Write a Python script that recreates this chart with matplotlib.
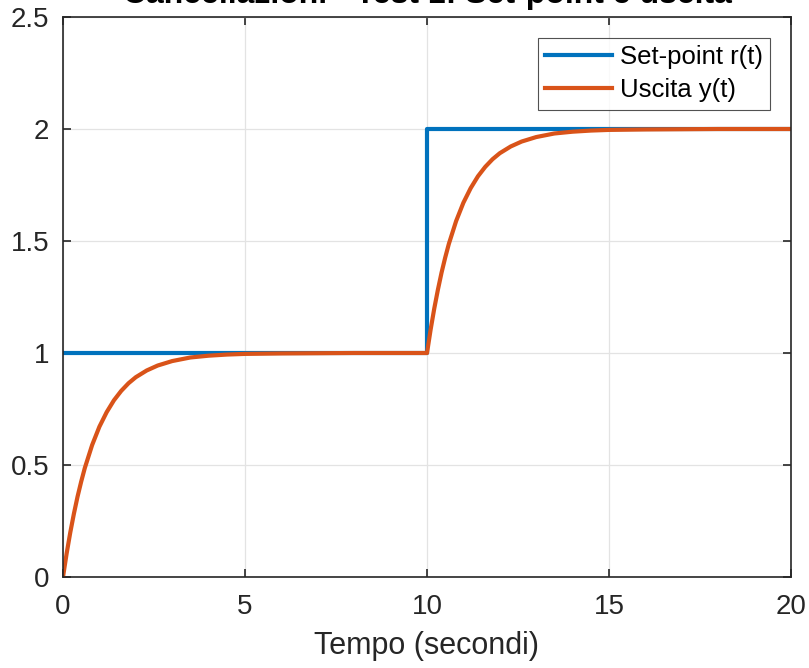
import matplotlib.pyplot as plt

plt.rcParams['font.family'] = ['Liberation Sans', 'DejaVu Sans']

# set-point r(t): step 1 -> 2 at t = 10
t_ref = [0, 10, 10, 20]
r_ref = [1, 1, 2, 2]

# uscita y(t)
t_out = [0, 0.1, 0.2, 0.3, 0.4, 0.5, 0.6, 0.8, 1.0, 1.2, 1.4, 1.6, 1.8, 2.0,
         2.3, 2.6, 3.0, 3.5, 4.0, 4.5, 5.0, 6.0, 7.0, 8.0,
         10.0, 10.1, 10.2, 10.3, 10.4, 10.5, 10.6, 10.8, 11.0, 11.2, 11.4, 11.6,
         11.8, 12.0, 12.3, 12.6, 13.0, 13.5, 14.0, 14.5, 15.0, 16.0, 17.0, 18.0, 20.0]
y_out = [0, 0.105, 0.199, 0.283, 0.359, 0.426, 0.487, 0.589, 0.671, 0.736, 0.789,
         0.831, 0.865, 0.892, 0.922, 0.944, 0.964, 0.980, 0.988, 0.993, 0.996,
         0.998, 0.999, 1.0,
         1.0, 1.105, 1.199, 1.283, 1.359, 1.426, 1.487, 1.589, 1.671, 1.736, 1.789,
         1.831, 1.865, 1.892, 1.922, 1.944, 1.964, 1.980, 1.988, 1.993, 1.996,
         1.998, 1.999, 2.0, 2.0]

xticks = [0, 5, 10, 15, 20]
yticks = [0, 0.5, 1, 1.5, 2, 2.5]

fig = plt.figure(figsize=(8.09, 6.68), dpi=100)
ax = fig.add_axes([63/809, 1 - 577/668, (791-63)/809, (577-17)/668])

ax.plot(t_ref, r_ref, color='#0072BD', lw=3.0, label='Set-point r(t)')
ax.plot(t_out, y_out, color='#D95319', lw=3.0, label='Uscita y(t)')

ax.set_xlim(0, 20)
ax.set_ylim(0, 2.5)
ax.set_xticks(xticks)
ax.set_yticks(yticks)
ax.set_yticklabels(['0', '0.5', '1', '1.5', '2', '2.5'])
ax.grid(True, color='#e3e3e3', lw=0.9)
ax.set_axisbelow(True)
ax.tick_params(direction='in', top=True, right=True, length=6, width=1.2,
               labelsize=20, colors='#262626')
ax.tick_params(axis='x', pad=12)
ax.tick_params(axis='y', pad=10)
for s in ax.spines.values():
    s.set_color('#262626')
    s.set_linewidth(1.2)

ax.set_xlabel('Tempo (secondi)', fontsize=22, color='#262626', labelpad=8)

leg = ax.legend(loc='upper right', fontsize=18.5, frameon=True, fancybox=False,
                edgecolor='#262626', handlelength=2.6, handletextpad=0.3,
                borderpad=0.3, labelspacing=0.35, borderaxespad=0.8)
leg.get_frame().set_linewidth(0.8)

fig.text(427/809, 1 - 3/668, 'Cancellazioni - Test 1: Set-point e uscita',
         ha='center', va='baseline', fontsize=23, fontweight='bold', color='black')

fig.savefig('out.png', dpi=100)
